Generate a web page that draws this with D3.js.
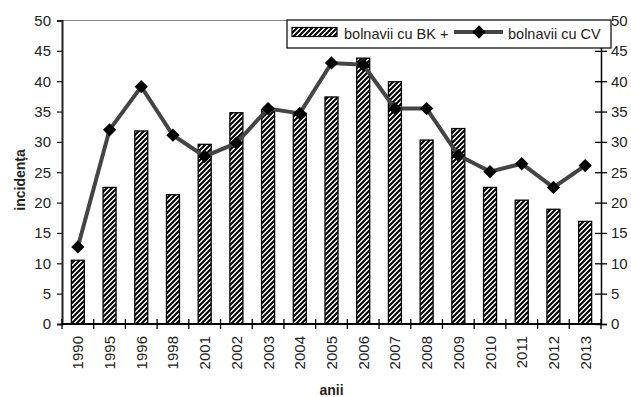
<!DOCTYPE html>
<html>
<head>
<meta charset="utf-8">
<script src="https://cdn.jsdelivr.net/npm/d3@7"></script>
<style>
  body { margin: 0; background: #fff; }
  text { font-family: "Liberation Sans", Arial, sans-serif; }
</style>
</head>
<body>
<div id="chart"></div>
<script>
// date -----------------------------------------------------------------------
const years = ['1990', '1995', '1996', '1998', '2001', '2002', '2003', '2004', '2005',
  '2006', '2007', '2008', '2009', '2010', '2011', '2012', '2013'];
const bkValues = [10.5, 22.5, 31.8, 21.3, 29.6, 34.8, 35.3, 34.7, 37.4,
  43.8, 39.9, 30.3, 32.2, 22.5, 20.4, 18.9, 16.9];
const cvValues = [12.7, 32.0, 39.1, 31.1, 27.6, 29.8, 35.5, 34.7, 43.0,
  42.7, 35.5, 35.5, 27.8, 25.1, 26.4, 22.5, 26.1];
const yTicks = [0, 5, 10, 15, 20, 25, 30, 35, 40, 45, 50];
const legendNames = ['bolnavii cu BK +', 'bolnavii cu CV'];

// dimensiuni -----------------------------------------------------------------
const width = 631, height = 397;
const margin = {top: 20.5, right: 30, bottom: 73, left: 62};
const x0 = margin.left, x1 = width - margin.right;
const y0 = height - margin.bottom, y1 = margin.top;
const fs = 15;

const svg = d3.select('#chart').append('svg')
  .attr('width', width)
  .attr('height', height);

// hasura ---------------------------------------------------------------------
svg.append('defs').append('pattern')
  .attr('id', 'hatch')
  .attr('patternUnits', 'userSpaceOnUse')
  .attr('width', 5)
  .attr('height', 5)
  .append('path')
  .attr('d', 'M-1,1 l2,-2 M0,5 l5,-5 M4,6 l2,-2')
  .attr('stroke', '#000')
  .attr('stroke-width', 2.1);

const x = d3.scaleBand().domain(years).range([x0, x1]);
const y = d3.scaleLinear().domain([0, 50]).range([y0, y1]);

// linia de sus ---------------------------------------------------------------
svg.append('line')
  .attr('x1', x0).attr('x2', x1)
  .attr('y1', y(50)).attr('y2', y(50))
  .attr('stroke', '#888').attr('stroke-width', 1);

// bare -----------------------------------------------------------------------
const barW = x.bandwidth() * 0.41;
svg.append('g').selectAll('rect')
  .data(years)
  .enter()
  .append('rect')
  .attr('x', d => x(d) + x.bandwidth() / 2 - barW / 2)
  .attr('y', (d, i) => y(bkValues[i]))
  .attr('width', barW)
  .attr('height', (d, i) => y(0) - y(bkValues[i]))
  .attr('fill', 'url(#hatch)')
  .attr('stroke', '#000')
  .attr('stroke-width', 1.3);

// axa stanga -----------------------------------------------------------------
const leftAxis = svg.append('g')
  .attr('transform', 'translate(' + x0 + ',0)')
  .call(d3.axisLeft(y).tickValues(yTicks).tickSize(5).tickPadding(6));
leftAxis.select('.domain').attr('stroke', '#222').attr('stroke-width', 2);
leftAxis.selectAll('.tick line').attr('stroke', '#222').attr('stroke-width', 1.3);
leftAxis.selectAll('text').attr('font-size', fs).attr('fill', '#222');

// axa dreapta ----------------------------------------------------------------
const rightAxis = svg.append('g')
  .attr('transform', 'translate(' + x1 + ',0)')
  .call(d3.axisRight(y).tickValues(yTicks).tickSize(6).tickPadding(4));
rightAxis.select('.domain').attr('stroke', '#000').attr('stroke-width', 1.5);
rightAxis.selectAll('.tick line').attr('x1', -6).attr('stroke', '#000').attr('stroke-width', 1.3);
rightAxis.selectAll('text').attr('font-size', fs).attr('fill', '#222');

// axa x ----------------------------------------------------------------------
const bounds = years.map(d => x(d)).concat([x1]);
const xAxis = svg.append('g');
xAxis.append('line')
  .attr('x1', x0 - 1).attr('x2', x1)
  .attr('y1', y0).attr('y2', y0)
  .attr('stroke', '#000').attr('stroke-width', 2);
xAxis.selectAll('.xt')
  .data(bounds)
  .enter()
  .append('line')
  .attr('x1', d => d).attr('x2', d => d)
  .attr('y1', y0 - 5).attr('y2', y0 + 5)
  .attr('stroke', '#000').attr('stroke-width', 1.3);
xAxis.selectAll('text')
  .data(years)
  .enter()
  .append('text')
  .attr('transform', d => 'translate(' + (x(d) + x.bandwidth() / 2 + 5.5) + ',' + (y0 + 12) + ') rotate(-90)')
  .attr('text-anchor', 'end')
  .attr('font-size', fs)
  .attr('fill', '#222')
  .text(d => d);

// linia CV -------------------------------------------------------------------
const line = d3.line()
  .x((d, i) => x(years[i]) + x.bandwidth() / 2)
  .y(d => y(d));
svg.append('path')
  .datum(cvValues)
  .attr('d', line)
  .attr('fill', 'none')
  .attr('stroke', '#444')
  .attr('stroke-width', 4);
const diamond = d3.symbol().type(d3.symbolDiamond2).size(112);
svg.append('g').selectAll('path')
  .data(cvValues)
  .enter()
  .append('path')
  .attr('d', diamond)
  .attr('transform', (d, i) => 'translate(' + (x(years[i]) + x.bandwidth() / 2) + ',' + y(d) + ')')
  .attr('fill', '#000');

// titluri axe ----------------------------------------------------------------
svg.append('text')
  .attr('x', (x0 + x1) / 2)
  .attr('y', 395)
  .attr('text-anchor', 'middle')
  .attr('font-size', 14)
  .attr('font-weight', 'bold')
  .attr('fill', '#222')
  .text('anii');
svg.append('text')
  .attr('transform', 'translate(25,180) rotate(-90)')
  .attr('text-anchor', 'middle')
  .attr('font-size', 14)
  .attr('font-weight', 'bold')
  .attr('fill', '#222')
  .text('incidența');

// legenda --------------------------------------------------------------------
const lg = svg.append('g');
lg.append('rect')
  .attr('x', 287).attr('y', 20)
  .attr('width', 324).attr('height', 28)
  .attr('fill', '#fff')
  .attr('stroke', '#000')
  .attr('stroke-width', 1.2);
lg.append('rect')
  .attr('x', 292).attr('y', 27.5)
  .attr('width', 45).attr('height', 9)
  .attr('fill', 'url(#hatch)')
  .attr('stroke', '#000')
  .attr('stroke-width', 1.2);
lg.append('text')
  .attr('x', 344).attr('y', 39)
  .attr('font-size', 14.5)
  .attr('fill', '#222')
  .text(legendNames[0]);
lg.append('line')
  .attr('x1', 454).attr('x2', 503)
  .attr('y1', 32).attr('y2', 32)
  .attr('stroke', '#444').attr('stroke-width', 4);
lg.append('path')
  .attr('d', diamond)
  .attr('transform', 'translate(479,32)')
  .attr('fill', '#000');
lg.append('text')
  .attr('x', 508).attr('y', 39)
  .attr('font-size', 14.5)
  .attr('fill', '#222')
  .text(legendNames[1]);
</script>
</body>
</html>
